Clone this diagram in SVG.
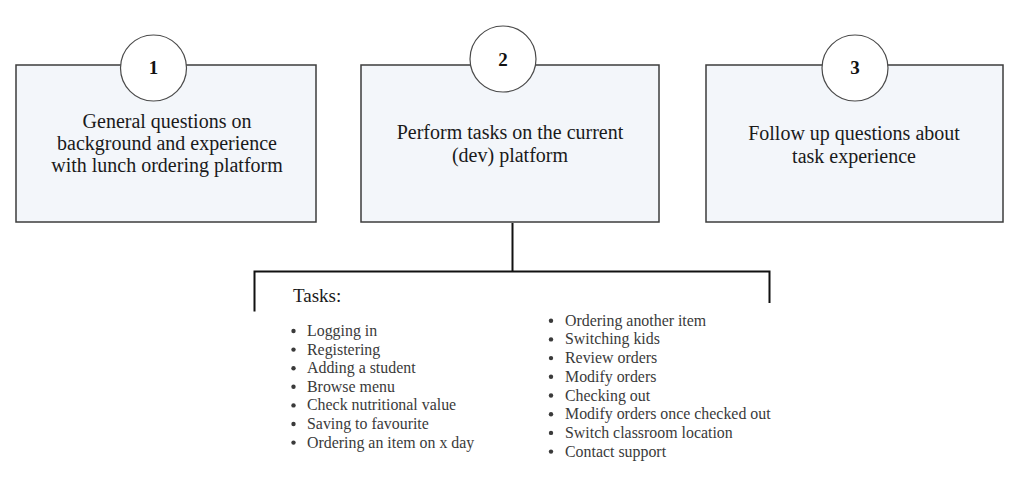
<svg xmlns="http://www.w3.org/2000/svg" width="1024" height="482" viewBox="0 0 1024 482">
<style>
.box{fill:#f3f6fa;stroke:#3c3c3c;stroke-width:1.5}
.circ{fill:#ffffff;stroke:#4a4a4a;stroke-width:1.2}
.num{font-family:"Liberation Serif",serif;font-weight:bold;font-size:19px;fill:#111;text-anchor:middle}
.lbl{font-family:"Liberation Serif",serif;font-size:20px;fill:#1a1a1a;text-anchor:middle}
.conn{fill:none;stroke:#111;stroke-width:2}
.hdr{font-family:"Liberation Serif",serif;font-size:19px;fill:#1a1a1a}
.item{font-family:"Liberation Serif",serif;font-size:15.9px;fill:#3a3a3a}
.dot{fill:#3a3a3a}
</style>
<rect width="1024" height="482" fill="#ffffff"/>
<g id="connectors">
<path class="conn" d="M512.5,223 V271.5"/>
<path class="conn" d="M254.5,311.5 V271.5 H769.5 V303"/>
</g>
<g id="node1">
<rect class="box" x="16" y="65" width="300" height="157"/>
<circle class="circ" cx="153.5" cy="68" r="33"/>
<text class="num" x="153.5" y="74">1</text>
<text class="lbl" x="167" y="128">General questions on</text>
<text class="lbl" x="167" y="150">background and experience</text>
<text class="lbl" x="167" y="172">with lunch ordering platform</text>
</g>
<g id="node2">
<rect class="box" x="361" y="65" width="298" height="157"/>
<circle class="circ" cx="503" cy="59" r="33"/>
<text class="num" x="503" y="65.5">2</text>
<text class="lbl" x="510" y="138.5">Perform tasks on the current</text>
<text class="lbl" x="510" y="161.5">(dev) platform</text>
</g>
<g id="node3">
<rect class="box" x="706" y="65" width="297" height="157"/>
<circle class="circ" cx="855" cy="68" r="33"/>
<text class="num" x="855" y="74">3</text>
<text class="lbl" x="854" y="139.5">Follow up questions about</text>
<text class="lbl" x="854" y="162.5">task experience</text>
</g>
<g id="tasks">
<text class="hdr" x="293" y="302">Tasks:</text>
<g>
<circle class="dot" cx="293.5" cy="331" r="2.2"/><text class="item" x="307" y="336">Logging in</text>
<circle class="dot" cx="293.5" cy="349.6" r="2.2"/><text class="item" x="307" y="354.6">Registering</text>
<circle class="dot" cx="293.5" cy="368.2" r="2.2"/><text class="item" x="307" y="373.2">Adding a student</text>
<circle class="dot" cx="293.5" cy="386.8" r="2.2"/><text class="item" x="307" y="391.8">Browse menu</text>
<circle class="dot" cx="293.5" cy="405.4" r="2.2"/><text class="item" x="307" y="410.4">Check nutritional value</text>
<circle class="dot" cx="293.5" cy="424" r="2.2"/><text class="item" x="307" y="429">Saving to favourite</text>
<circle class="dot" cx="293.5" cy="442.6" r="2.2"/><text class="item" x="307" y="447.6">Ordering an item on x day</text>
</g>
<g>
<circle class="dot" cx="551" cy="320.7" r="2.2"/><text class="item" x="565" y="325.7">Ordering another item</text>
<circle class="dot" cx="551" cy="339.4" r="2.2"/><text class="item" x="565" y="344.4">Switching kids</text>
<circle class="dot" cx="551" cy="358.1" r="2.2"/><text class="item" x="565" y="363.1">Review orders</text>
<circle class="dot" cx="551" cy="376.8" r="2.2"/><text class="item" x="565" y="381.8">Modify orders</text>
<circle class="dot" cx="551" cy="395.5" r="2.2"/><text class="item" x="565" y="400.5">Checking out</text>
<circle class="dot" cx="551" cy="414.2" r="2.2"/><text class="item" x="565" y="419.2">Modify orders once checked out</text>
<circle class="dot" cx="551" cy="432.9" r="2.2"/><text class="item" x="565" y="437.9">Switch classroom location</text>
<circle class="dot" cx="551" cy="451.6" r="2.2"/><text class="item" x="565" y="456.6">Contact support</text>
</g>
</g>
</svg>
